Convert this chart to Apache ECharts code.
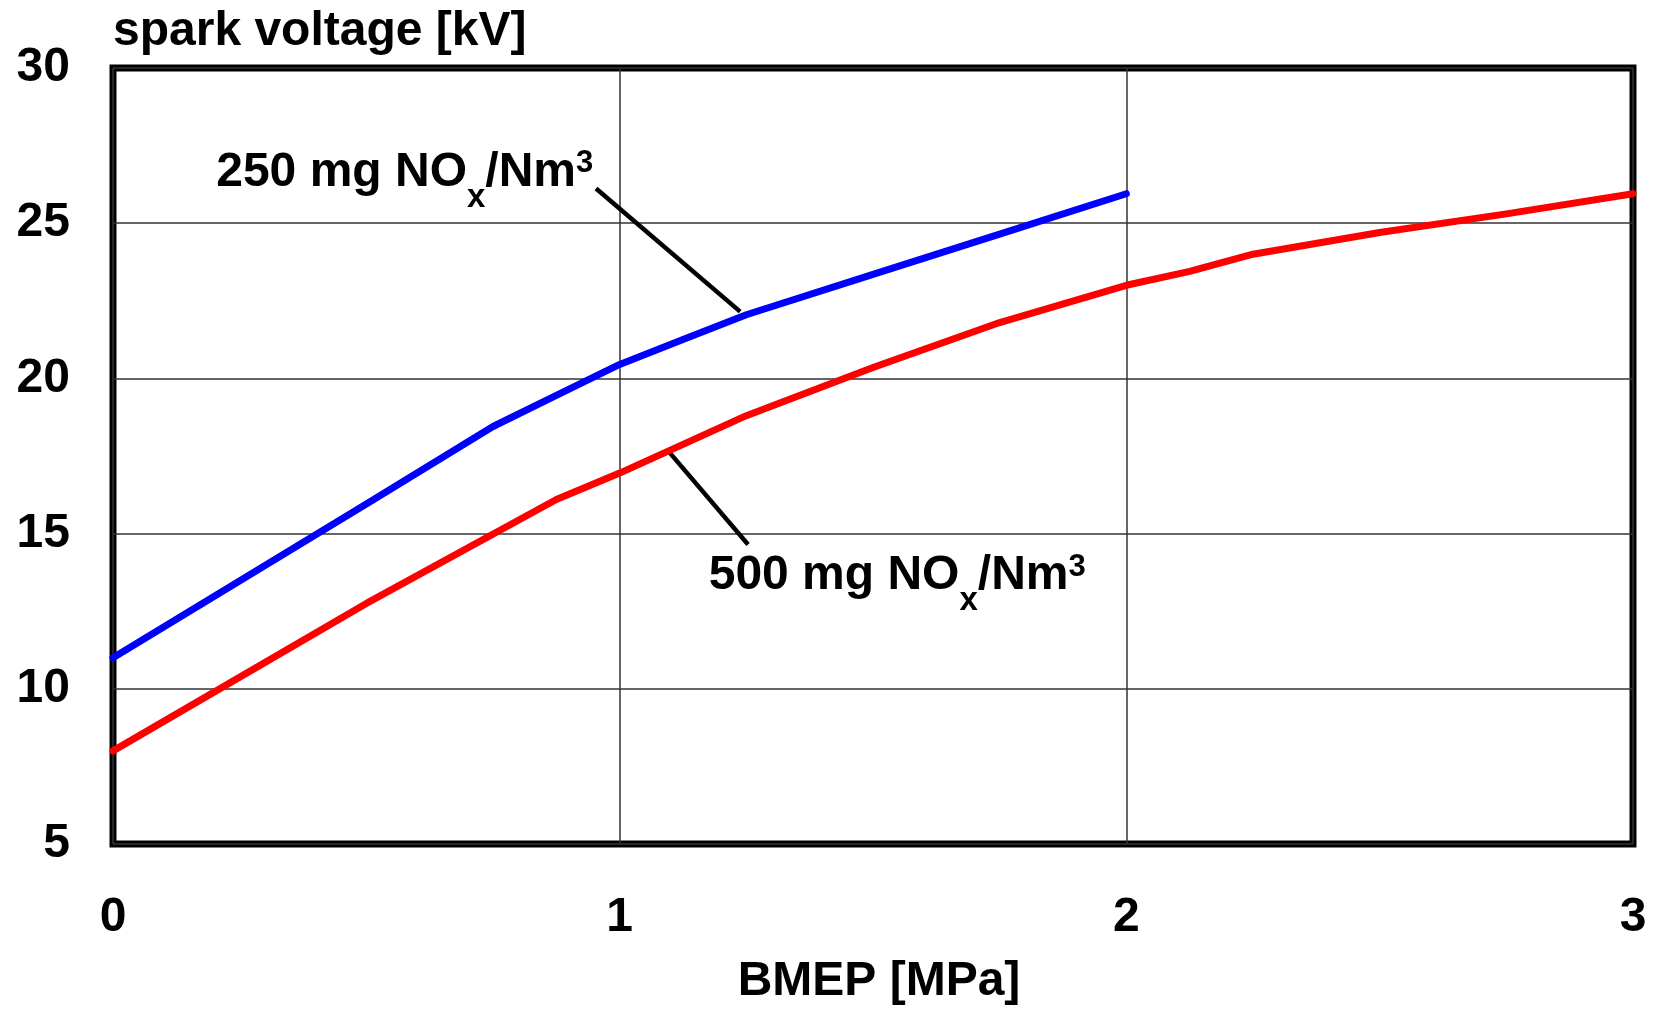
<!DOCTYPE html>
<html><head><meta charset="utf-8">
<script src="https://cdn.jsdelivr.net/npm/echarts@6/dist/echarts.min.js"></script>
<style>html,body{margin:0;padding:0;background:#fff}#c{width:1658px;height:1011px}</style>
</head><body><div id="c"></div>
<script>
// ---- data ----
const bmep250 = [0, 0.5, 0.75, 0.875, 1.0, 1.125, 1.25, 1.5, 1.75, 2.0];
const volt250 = [11.0, 15.95, 18.45, 19.45, 20.45, 21.25, 22.05, 23.35, 24.65, 25.95];
const bmep500 = [0, 0.5, 0.875, 1.0, 1.25, 1.5, 1.75, 2.0, 2.125, 2.25, 2.5, 2.75, 3.0];
const volt500 = [8.0, 12.75, 16.1, 16.95, 18.8, 20.35, 21.8, 23.0, 23.45, 24.0, 24.7, 25.3, 25.95];
const xTicks = [0, 1, 2, 3];
const yTicks = [5, 10, 15, 20, 25, 30];
const xName = 'BMEP [MPa]';
const yName = 'spark voltage [kV]';
// annotation anchors (data coordinates)
const label250Pos = [0.2037, 26.63];
const label500Pos = [1.1757, 13.63];
const leader250 = [[0.9534, 26.12], [1.2378, 22.15]];
const leader500 = [[1.097, 17.64], [1.2534, 14.65]];
const label250Parts = ['250 mg NO', 'x', '/Nm', '3'];
const label500Parts = ['500 mg NO', 'x', '/Nm', '3'];

const FONT = "'Liberation Sans', Arial, sans-serif";
const zip = (xs, ys) => xs.map((x, i) => [x, ys[i]]);
const rich = {
  m: {fontSize: 48, fontWeight: 'bold', fontFamily: FONT, color: '#000', lineHeight: 80, verticalAlign: 'middle'},
  sub: {fontSize: 33, fontWeight: 'bold', fontFamily: FONT, color: '#000', lineHeight: 33, verticalAlign: 'middle', padding: [50, 0, 0, 0]},
  sup: {fontSize: 31, fontWeight: 'bold', fontFamily: FONT, color: '#000', lineHeight: 31, verticalAlign: 'middle', padding: [0, 0, 18, 0]}
};
const fmt = p => `{m|${p[0]}}{sub|${p[1]}}{m|${p[2]}}{sup|${p[3]}}`;

const chart = echarts.init(document.getElementById('c'), null, {renderer: 'canvas'});
chart.setOption({
  backgroundColor: '#fff',
  animation: false,
  grid: {left: 113, right: 25, top: 68, bottom: 167, show: true, borderColor: '#000', borderWidth: 7, backgroundColor: 'transparent'},
  xAxis: {
    type: 'value', min: xTicks[0], max: xTicks[xTicks.length - 1], interval: 1,
    name: xName, nameLocation: 'middle', nameGap: 114,
    nameTextStyle: {fontSize: 48, fontWeight: 'bold', fontFamily: FONT, color: '#000', padding: [0, 0, 0, 12]},
    axisLine: {show: false}, axisTick: {show: false},
    axisLabel: {margin: 50, fontSize: 48, fontWeight: 'bold', fontFamily: FONT, color: '#000'},
    splitLine: {show: true, lineStyle: {color: '#333', width: 1.5}}
  },
  yAxis: {
    type: 'value', min: yTicks[0], max: yTicks[yTicks.length - 1], interval: 5,
    name: yName, nameLocation: 'end', nameGap: 12,
    nameTextStyle: {fontSize: 48, fontWeight: 'bold', fontFamily: FONT, color: '#000', align: 'left', verticalAlign: 'bottom'},
    axisLine: {show: false}, axisTick: {show: false},
    axisLabel: {margin: 43, fontSize: 48, fontWeight: 'bold', fontFamily: FONT, color: '#000', padding: [5, 0, 0, 0]},
    splitLine: {show: true, lineStyle: {color: '#333', width: 1.5}}
  },
  series: [
    {type: 'line', data: leader250, symbol: 'none', silent: true, z: 3,
     lineStyle: {color: '#000', width: 4.5, cap: 'butt'}},
    {type: 'line', data: leader500, symbol: 'none', silent: true, z: 3,
     lineStyle: {color: '#000', width: 4.5, cap: 'butt'}},
    {name: '500', type: 'line', data: zip(bmep500, volt500), symbol: 'none', z: 4,
     lineStyle: {color: '#ff0000', width: 7, cap: 'round', join: 'round'}},
    {name: '250', type: 'line', data: zip(bmep250, volt250), symbol: 'none', z: 4,
     lineStyle: {color: '#0000ff', width: 7, cap: 'round', join: 'round'}},
    {type: 'scatter', data: [label250Pos], symbolSize: 0, silent: true, z: 5,
     label: {show: true, position: 'right', distance: 0, align: 'left', verticalAlign: 'middle', color: '#000', opacity: 1,
             formatter: () => fmt(label250Parts), rich: rich}},
    {type: 'scatter', data: [label500Pos], symbolSize: 0, silent: true, z: 5,
     label: {show: true, position: 'right', distance: 0, align: 'left', verticalAlign: 'middle', color: '#000', opacity: 1,
             formatter: () => fmt(label500Parts), rich: rich}}
  ]
});
</script></body></html>
